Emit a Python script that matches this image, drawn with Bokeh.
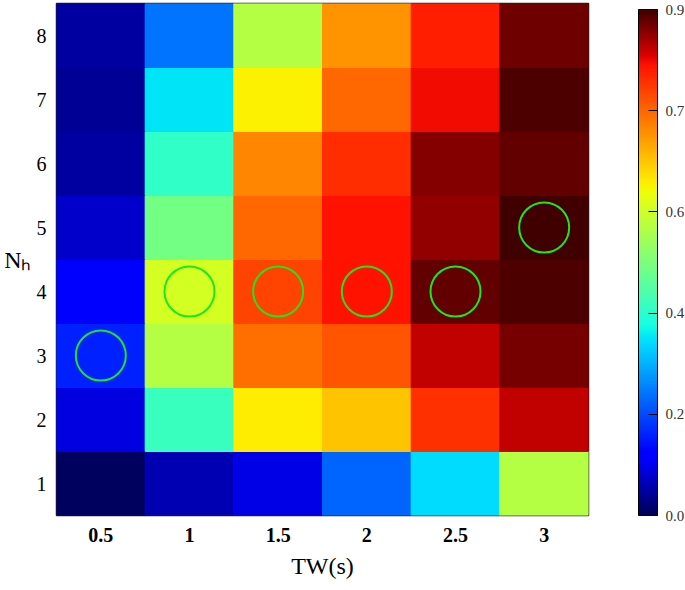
import numpy as np
from bokeh.plotting import figure
from bokeh.models import (ColumnDataSource, LinearColorMapper, ColorBar, FixedTicker,
                          CustomJSTickFormatter, Range1d)
from bokeh.embed import file_html
from bokeh.resources import INLINE

# ---- data ----
tw_values = [0.5, 1.0, 1.5, 2.0, 2.5, 3.0]
nh_values = [1, 2, 3, 4, 5, 6, 7, 8]
tw_labels = ["0.5", "1", "1.5", "2", "2.5", "3"]
# colour-scale position of each cell, one list per N_h row (1..8)
row_1 = [0.005, 0.06, 0.095, 0.225, 0.34, 0.57]
row_2 = [0.09, 0.42, 0.66, 0.70, 0.856, 0.925]
row_3 = [0.16, 0.567, 0.79, 0.82, 0.925, 0.966]
row_4 = [0.11, 0.607, 0.837, 0.89, 0.98, 0.99]
row_5 = [0.076, 0.49, 0.80, 0.89, 0.95, 1.0]
row_6 = [0.05, 0.41, 0.767, 0.86, 0.959, 0.979]
row_7 = [0.04, 0.35, 0.655, 0.80, 0.895, 0.99]
row_8 = [0.05, 0.24, 0.57, 0.75, 0.875, 0.97]
rows = [row_1, row_2, row_3, row_4, row_5, row_6, row_7, row_8]
# highlighted (best) cells
best_tw = [0.5, 1.0, 1.5, 2.0, 2.5, 3.0]
best_nh = [3, 4, 4, 4, 4, 5]
cbar_ticks = [0.0, 0.2, 0.4, 0.6, 0.8, 1.0]
cbar_labels = ["0.0", "0.2", "0.4", "0.6", "0.7", "0.9"]

# ---- jet-like palette ----
def jet(n=256):
    t = np.linspace(0, 1, n)
    r = np.interp(t, [0, 0.35, 0.66, 0.89, 1.0], [0, 0, 1, 1, 0.25])
    g = np.interp(t, [0, 0.125, 0.375, 0.64, 0.91, 1.0], [0, 0, 1, 1, 0, 0])
    b = np.interp(t, [0, 0.11, 0.34, 0.65, 1.0], [0.35, 1, 1, 0, 0])
    return ["#%02x%02x%02x" % (int(round(a * 255)), int(round(c * 255)), int(round(d * 255)))
            for a, c, d in zip(r, g, b)]

palette = jet()
mapper = LinearColorMapper(palette=palette, low=0.0, high=1.0)

xs, ys, vs = [], [], []
for nh, row in zip(nh_values, rows):
    for tw, v in zip(tw_values, row):
        xs.append(tw)
        ys.append(nh)
        vs.append(v)
src = ColumnDataSource(dict(x=xs, y=ys, v=vs))

p = figure(width=685, height=590, output_backend="svg", toolbar_location=None,
           x_range=Range1d(0.25, 3.25), y_range=Range1d(0.5, 8.5),
           min_border_left=56, min_border_top=3, min_border_bottom=75, min_border_right=97,
           background_fill_color="white", border_fill_color="white")

p.rect(x="x", y="y", width=0.5, height=1, source=src,
       fill_color={"field": "v", "transform": mapper},
       line_color={"field": "v", "transform": mapper}, line_width=1)

p.scatter(x=best_tw, y=best_nh, marker="circle", size=50, fill_alpha=0,
          line_color="#1ee61e", line_width=2)

p.grid.visible = False
p.outline_line_color = "#222222"
p.outline_line_width = 1.5

for ax in (p.xaxis[0], p.yaxis[0]):
    ax.axis_line_color = None
    ax.major_tick_line_color = None
    ax.major_tick_out = 0
    ax.major_tick_in = 0
    ax.minor_tick_line_color = None
    ax.minor_tick_out = 0
    ax.major_label_text_font = "Liberation Serif"
    ax.major_label_text_color = "black"

p.xaxis.ticker = FixedTicker(ticks=tw_values)
p.xaxis.major_label_overrides = {0.5: "0.5", 1: "1", 1.5: "1.5", 2: "2", 2.5: "2.5", 3: "3"}
p.xaxis.major_label_text_font_size = "20px"
p.xaxis.major_label_text_font_style = "bold"
p.xaxis.major_label_standoff = 12
p.xaxis.axis_label = "TW(s)"
p.xaxis.axis_label_text_font = "Liberation Serif"
p.xaxis.axis_label_text_font_size = "24px"
p.xaxis.axis_label_text_font_style = "normal"
p.xaxis.axis_label_text_color = "black"
p.xaxis.axis_label_standoff = 8

p.yaxis.ticker = FixedTicker(ticks=nh_values)
p.yaxis.major_label_text_font_size = "20px"
p.yaxis.major_label_standoff = 10
p.yaxis.axis_label = "N\u2095"
p.yaxis.axis_label_text_font = "Liberation Serif"
p.yaxis.axis_label_text_font_size = "24px"
p.yaxis.axis_label_text_font_style = "normal"
p.yaxis.axis_label_text_color = "black"
p.yaxis.axis_label_standoff = 2
try:
    p.yaxis.axis_label_orientation = "horizontal"
except Exception:
    pass

fmt = CustomJSTickFormatter(args=dict(lbls=cbar_labels, tpos=cbar_ticks), code="""
    for (let i = 0; i < tpos.length; i++) {
        if (Math.abs(tpos[i] - tick) < 1e-6) return lbls[i];
    }
    return '';
""")

cb = ColorBar(color_mapper=mapper, ticker=FixedTicker(ticks=cbar_ticks), formatter=fmt,
              width=19, height=506, padding=0, margin=0, location=(582, 0),
              bar_line_color="black", bar_line_width=1,
              major_tick_line_color="black", major_tick_in=9, major_tick_out=0,
              minor_tick_line_color=None, label_standoff=8,
              major_label_text_font="Liberation Serif", major_label_text_font_size="15px",
              major_label_text_color="#333333",
              background_fill_alpha=0, border_line_color=None)
p.add_layout(cb, "center")

open("out.html", "w").write(file_html(p, INLINE))
